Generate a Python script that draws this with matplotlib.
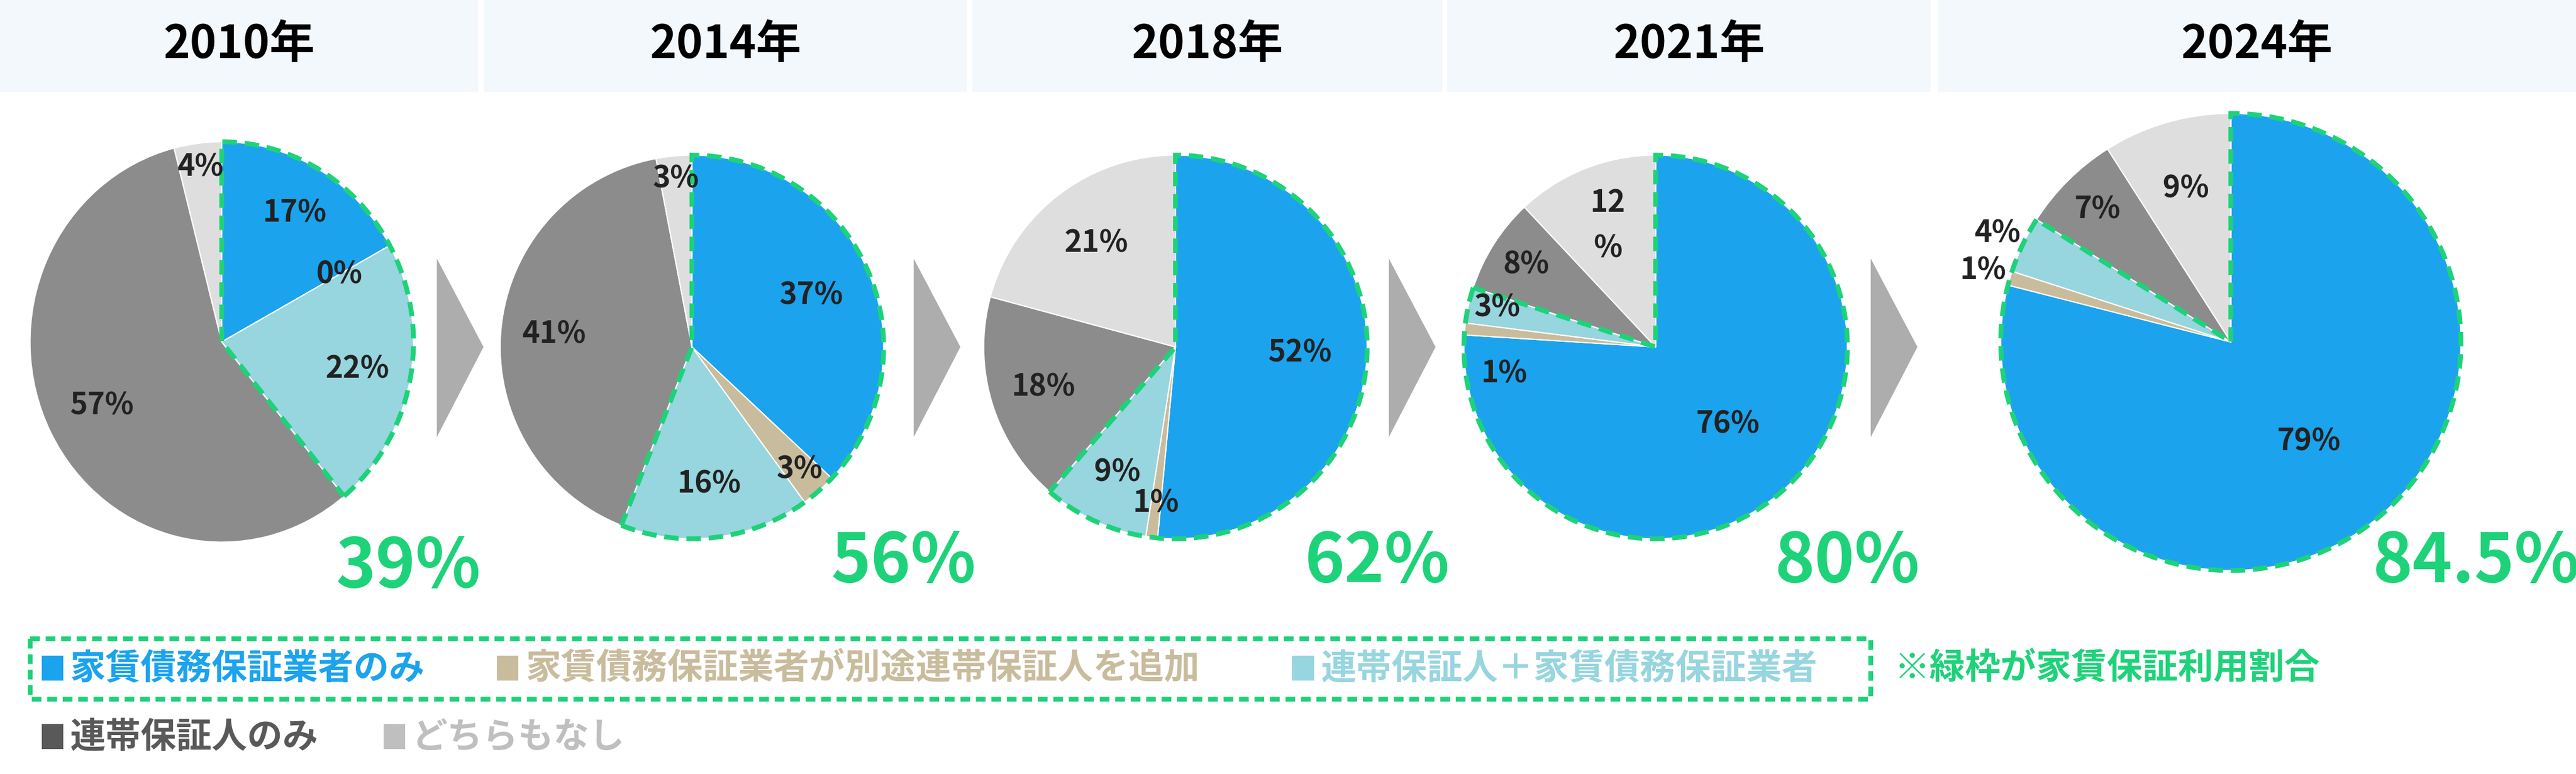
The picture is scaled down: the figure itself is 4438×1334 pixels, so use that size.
import matplotlib
matplotlib.use("Agg")
import matplotlib.pyplot as plt
from matplotlib.patches import Wedge, Rectangle, Polygon
import numpy as np

years = ["2010年", "2014年", "2018年", "2021年", "2024年"]
categories = ["家賃債務保証業者のみ", "家賃債務保証業者が別途連帯保証人を追加",
              "連帯保証人＋家賃債務保証業者", "連帯保証人のみ", "どちらもなし"]
v2010 = [17, 0, 22, 57, 4]
v2014 = [37, 3, 16, 41, 3]
v2018 = [52, 1, 9, 18, 21]
v2021 = [76, 1, 3, 8, 12]
v2024 = [79, 1, 4, 7, 9]
values = [v2010, v2014, v2018, v2021, v2024]
guarantee_rate = ["39%", "56%", "62%", "80%", "84.5%"]
note = "※緑枠が家賃保証利用割合"

colors = ["#1BA3EE", "#C9BC9D", "#97D5DF", "#8C8C8C", "#DEDEDE"]
legend_colors = ["#1BA3EE", "#C9BC9D", "#97D5DF", "#595959", "#BFBFBF"]
GREEN = "#1ED27A"
FONT = "Noto Sans CJK JP"

W, H = 1545.0, 464.0
fig = plt.figure(figsize=(44.38, 13.34), dpi=100)
bg = fig.add_axes([0, 0, 1, 1])
bg.set_xlim(0, W); bg.set_ylim(H, 0); bg.axis("off")

headers = [(0, 287), (290, 580), (583, 865), (868, 1158), (1162, 1545)]
for (x0, x1), y in zip(headers, years):
    bg.add_patch(Rectangle((x0, 0), x1 - x0, 55, color="#F3F8FD", lw=0))
    bg.text((x0 + x1) / 2, 27, y, ha="center", va="center", fontsize=56,
            fontweight="bold", family=FONT)

geo = [(133, 205, 115, 120), (415, 208, 115, 115), (705, 208, 115, 115),
       (993, 208, 115, 115), (1338, 205, 138, 137)]
lab_r = [[0.75, 0.7, 0.72, 0.7, 0.88],
         [0.68, 0.85, 0.72, 0.72, 0.88],
         [0.65, 0.82, 0.72, 0.72, 0.68],
         [0.55, 0.8, 0.85, 0.8, 0.68],
         [0.55, 1.12, 1.12, 0.82, 0.7]]
ang_override = {(3, 1): 190.0, (3, 2): 166.0}
big_pos = [(245, 340), (542, 337), (826, 337), (1108, 337), (1485, 337)]

for i, vals in enumerate(values):
    cx, cy, rx, ry = geo[i]
    ax = fig.add_axes([(cx - rx * 1.05) / W, 1 - (cy + ry * 1.05) / H,
                       2.1 * rx / W, 2.1 * ry / H])
    ax.pie(vals, colors=colors, startangle=90, counterclock=False, radius=1,
           wedgeprops=dict(linewidth=1.5, edgecolor="white"))
    ax.set_aspect("auto")
    ax.set_xlim(-1.05, 1.05); ax.set_ylim(-1.05, 1.05)
    tot = float(sum(vals))
    g = sum(vals[:3]) / tot
    ax.add_patch(Wedge((0, 0), 1.0, 90 - 360 * g, 90, fill=False, edgecolor=GREEN,
                       lw=6, linestyle=(0, (3, 1.6)), clip_on=False, zorder=5))
    start = 90.0
    for j, v in enumerate(vals):
        ang = start - 360 * v / tot / 2
        start -= 360 * v / tot
        ang = ang_override.get((i, j), ang)
        r = lab_r[i][j]
        txt = f"{v}%"
        if i == 3 and j == 4:
            txt = f"{v}\n%"
        ax.text(r * np.cos(np.radians(ang)), r * np.sin(np.radians(ang)), txt,
                ha="center", va="center", fontsize=37, fontweight="bold",
                family=FONT, color="#222222", zorder=6, linespacing=1.6)
    bx, by = big_pos[i]
    bg.text(bx, by, guarantee_rate[i], ha="center", va="center", fontsize=84,
            fontweight="bold", family=FONT, color=GREEN)

for ax0 in [262, 548, 833, 1122]:
    bg.add_patch(Polygon([[ax0, 155], [ax0 + 28, 208], [ax0, 262]], closed=True,
                         color="#ADADAD", lw=0))

bg.add_patch(Rectangle((18, 383), 1104, 36, fill=False, edgecolor=GREEN, lw=6,
                       linestyle=(0, (2, 1.2))))
row1 = [(25, 0), (298, 1), (775, 2)]
for x, j in row1:
    bg.add_patch(Rectangle((x, 393), 13, 15, color=legend_colors[j], lw=0))
    bg.text(x + 17, 401, categories[j], ha="left", va="center", fontsize=44,
            fontweight="bold", family=FONT, color=legend_colors[j])
bg.text(1136, 401, note, ha="left", va="center", fontsize=44, fontweight="bold",
        family=FONT, color=GREEN)
for x, j in [(25, 3), (230, 4)]:
    bg.add_patch(Rectangle((x, 434), 13, 15, color=legend_colors[j], lw=0))
    bg.text(x + 17, 442, categories[j], ha="left", va="center", fontsize=44,
            fontweight="bold", family=FONT, color=legend_colors[j])

fig.savefig("out.png", dpi=100)
